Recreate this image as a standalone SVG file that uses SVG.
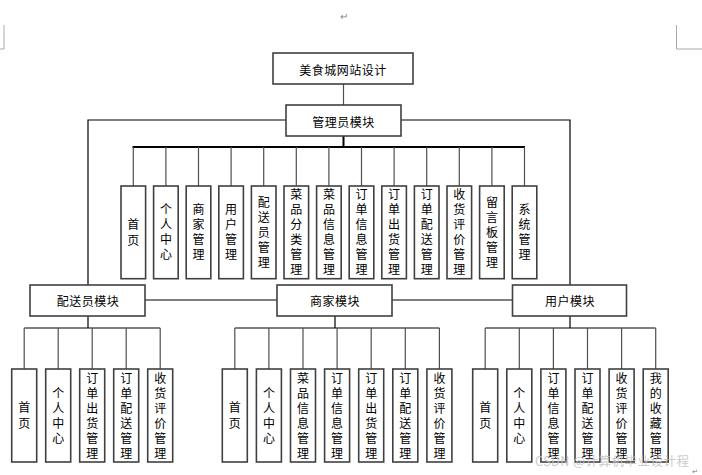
<svg xmlns="http://www.w3.org/2000/svg" width="702" height="475" viewBox="0 0 702 475">
<style>
.box{fill:#fff;stroke:#404040;stroke-width:1.6}
.t{font-family:"Noto Sans CJK SC","Liberation Sans",sans-serif;font-size:12px;fill:#000;text-anchor:middle;dominant-baseline:central;letter-spacing:0.5px}
.v{font-family:"Noto Sans CJK SC","Liberation Sans",sans-serif;font-size:12px;fill:#000;text-anchor:middle;writing-mode:vertical-rl;letter-spacing:3px}
.v2{letter-spacing:4px}
.main{stroke:#000;stroke-width:1.2;fill:none}
.thick{stroke:#000;stroke-width:2;fill:none}
.leaf{stroke:#505050;stroke-width:1.2;fill:none}
.mark{stroke:#aaa;stroke-width:1;fill:none}
</style>
<rect width="702" height="475" fill="#fff"/>
<g id="page-marks">
<path class="mark" d="M4 25V49H0M676.5 25V49H702"/>
<text x="344" y="20" font-family="Liberation Sans, sans-serif" font-size="10" fill="#888" text-anchor="middle">↵</text>
</g>
<g id="connectors">
<path class="leaf" d="M343.5 84V105"/>
<path class="main" d="M286 120H88V285M401 120H570V285"/>
<path class="thick" d="M343.5 136V147"/>
<path class="thick" d="M132.5 147H525"/>
<path class="leaf" d="M133.3 147V186M165.9 147V186M198.5 147V186M231.1 147V186M263.7 147V186M296.3 147V186M328.9 147V186M361.5 147V186M394.1 147V186M426.7 147V186M459.3 147V186M491.9 147V186M524.5 147V186"/>
<path class="main" d="M145 300H277M392 300H512.5"/>
<path class="main" d="M88 316V328M24.2 328H160.2M335 316V328M234.8 328H439.4M570 316V328M485.2 328H655.7"/>
<path class="leaf" d="M24.2 328V369M58.2 328V369M92.2 328V369M126.2 328V369M160.2 328V369"/>
<path class="leaf" d="M234.8 328V369M268.9 328V369M303 328V369M337.1 328V369M371.2 328V369M405.3 328V369M439.4 328V369"/>
<path class="leaf" d="M485.2 328V369M519.3 328V369M553.4 328V369M587.5 328V369M621.6 328V369M655.7 328V369"/>
</g>
<g id="n-root"><rect class="box" x="273" y="53" width="140" height="31"/><text class="t" x="343" y="69">美食城网站设计</text></g>
<g id="n-admin"><rect class="box" x="286" y="105" width="115" height="31"/><text class="t" x="343.5" y="121">管理员模块</text></g>
<g id="n-delivery"><rect class="box" x="30" y="285" width="115" height="31"/><text class="t" x="88" y="300">配送员模块</text></g>
<g id="n-merchant"><rect class="box" x="277" y="285" width="115" height="31"/><text class="t" x="335" y="300">商家模块</text></g>
<g id="n-user"><rect class="box" x="512.5" y="285" width="114" height="31"/><text class="t" x="570" y="300">用户模块</text></g>

<g id="a1"><rect class="box" x="121" y="186" width="24.6" height="92.7"/><text class="v v2" x="133.3" y="234.3">首页</text></g>
<g id="a2"><rect class="box" x="153.6" y="186" width="24.6" height="92.7"/><text class="v" x="165.9" y="233.8">个人中心</text></g>
<g id="a3"><rect class="box" x="186.2" y="186" width="24.6" height="92.7"/><text class="v" x="198.5" y="233.8">商家管理</text></g>
<g id="a4"><rect class="box" x="218.8" y="186" width="24.6" height="92.7"/><text class="v" x="231.1" y="233.8">用户管理</text></g>
<g id="a5"><rect class="box" x="251.4" y="186" width="24.6" height="92.7"/><text class="v" x="263.7" y="233.8">配送员管理</text></g>
<g id="a6"><rect class="box" x="284" y="186" width="24.6" height="92.7"/><text class="v" x="296.3" y="233.8">菜品分类管理</text></g>
<g id="a7"><rect class="box" x="316.6" y="186" width="24.6" height="92.7"/><text class="v" x="328.9" y="233.8">菜品信息管理</text></g>
<g id="a8"><rect class="box" x="349.2" y="186" width="24.6" height="92.7"/><text class="v" x="361.5" y="233.8">订单信息管理</text></g>
<g id="a9"><rect class="box" x="381.8" y="186" width="24.6" height="92.7"/><text class="v" x="394.1" y="233.8">订单出货管理</text></g>
<g id="a10"><rect class="box" x="414.4" y="186" width="24.6" height="92.7"/><text class="v" x="426.7" y="233.8">订单配送管理</text></g>
<g id="a11"><rect class="box" x="447" y="186" width="24.6" height="92.7"/><text class="v" x="459.3" y="233.8">收货评价管理</text></g>
<g id="a12"><rect class="box" x="479.6" y="186" width="24.6" height="92.7"/><text class="v" x="491.9" y="233.8">留言板管理</text></g>
<g id="a13"><rect class="box" x="512.2" y="186" width="24.6" height="92.7"/><text class="v" x="524.5" y="233.8">系统管理</text></g>

<g id="d1"><rect class="box" x="11.7" y="369" width="25" height="93"/><text class="v v2" x="24.2" y="417.5">首页</text></g>
<g id="d2"><rect class="box" x="45.7" y="369" width="25" height="93"/><text class="v" x="58.2" y="417">个人中心</text></g>
<g id="d3"><rect class="box" x="79.7" y="369" width="25" height="93"/><text class="v" x="92.2" y="417">订单出货管理</text></g>
<g id="d4"><rect class="box" x="113.7" y="369" width="25" height="93"/><text class="v" x="126.2" y="417">订单配送管理</text></g>
<g id="d5"><rect class="box" x="147.7" y="369" width="25" height="93"/><text class="v" x="160.2" y="417">收货评价管理</text></g>

<g id="m1"><rect class="box" x="222.3" y="369" width="25" height="93"/><text class="v v2" x="234.8" y="417.5">首页</text></g>
<g id="m2"><rect class="box" x="256.4" y="369" width="25" height="93"/><text class="v" x="268.9" y="417">个人中心</text></g>
<g id="m3"><rect class="box" x="290.5" y="369" width="25" height="93"/><text class="v" x="303" y="417">菜品信息管理</text></g>
<g id="m4"><rect class="box" x="324.6" y="369" width="25" height="93"/><text class="v" x="337.1" y="417">订单信息管理</text></g>
<g id="m5"><rect class="box" x="358.7" y="369" width="25" height="93"/><text class="v" x="371.2" y="417">订单出货管理</text></g>
<g id="m6"><rect class="box" x="392.8" y="369" width="25" height="93"/><text class="v" x="405.3" y="417">订单配送管理</text></g>
<g id="m7"><rect class="box" x="426.9" y="369" width="25" height="93"/><text class="v" x="439.4" y="417">收货评价管理</text></g>

<g id="u1"><rect class="box" x="472.7" y="369" width="25" height="93"/><text class="v v2" x="485.2" y="417.5">首页</text></g>
<g id="u2"><rect class="box" x="506.8" y="369" width="25" height="93"/><text class="v" x="519.3" y="417">个人中心</text></g>
<g id="u3"><rect class="box" x="540.9" y="369" width="25" height="93"/><text class="v" x="553.4" y="417">订单信息管理</text></g>
<g id="u4"><rect class="box" x="575" y="369" width="25" height="93"/><text class="v" x="587.5" y="417">订单配送管理</text></g>
<g id="u5"><rect class="box" x="609.1" y="369" width="25" height="93"/><text class="v" x="621.6" y="417">收货评价管理</text></g>
<g id="u6"><rect class="box" x="643.2" y="369" width="25" height="93"/><text class="v" x="655.7" y="417">我的收藏管理</text></g>

<g id="watermark"><text x="535" y="466" textLength="154" font-family="Noto Sans CJK SC, Liberation Sans, sans-serif" font-size="12.5" fill="#c4c4c4" fill-opacity="0.9">CSDN @计算机毕业设计程</text><text x="692" y="474" font-family="Liberation Sans, sans-serif" font-size="7" fill="#777">↵</text></g>
</svg>
